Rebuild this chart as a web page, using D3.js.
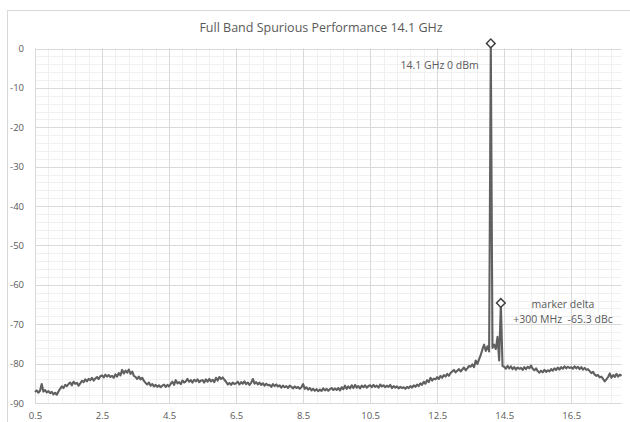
<!DOCTYPE html>
<html>
<head>
<meta charset="utf-8">
<script src="https://cdn.jsdelivr.net/npm/d3@7"></script>
<style>
  body { margin: 0; background: #fff; }
  text { font-family: "Open Sans", "Noto Sans", sans-serif; fill: #595959; }
</style>
</head>
<body>
<svg width="630" height="422"></svg>
<script>

let title = 'Full Band Spurious Performance 14.1 GHz';

// sweep grid (GHz) and measured level (dBm) at each point
let sweepStart = 0.5;
let sweepStep = 0.05;
let levels = [
  -87.2,-86.8,-87.4,-86.9,-85.2,-87.1,-86.7,-87.3,-87.0,-87.5,-87.2,-87.8,-87.4,-87.9,-87.1,-86.4,-85.8,-86.2,-85.4,-85.7,
  -85.2,-84.8,-85.5,-84.6,-85.1,-84.9,-85.6,-85.0,-84.4,-84.7,-84.0,-84.5,-83.9,-84.2,-83.6,-84.3,-83.8,-83.4,-83.9,-83.2,
  -83.0,-83.5,-82.8,-83.3,-82.9,-83.4,-83.1,-83.6,-82.7,-83.3,-82.4,-83.0,-81.6,-82.5,-81.8,-82.3,-81.5,-82.6,-82.0,-83.1,
  -83.4,-83.9,-83.3,-84.0,-83.6,-84.4,-84.9,-85.3,-84.8,-85.6,-85.2,-85.8,-85.4,-85.9,-85.5,-86.0,-85.6,-85.3,-85.9,-85.4,
  -85.8,-85.1,-84.6,-85.4,-84.2,-85.0,-84.7,-85.2,-84.3,-84.8,-84.5,-83.9,-84.6,-84.2,-84.8,-84.1,-84.5,-84.0,-84.7,-84.3,
  -84.2,-84.8,-84.0,-84.6,-83.9,-84.5,-84.1,-84.7,-83.6,-84.3,-83.4,-83.9,-83.5,-84.1,-84.6,-85.3,-84.9,-85.4,-84.8,-85.2,
  -85.0,-84.6,-85.3,-84.7,-85.1,-84.5,-85.2,-84.8,-85.4,-84.9,-83.9,-85.1,-84.7,-85.3,-84.8,-85.4,-85.0,-85.6,-85.1,-85.5,
  -85.4,-85.9,-85.2,-85.7,-85.3,-85.8,-85.5,-86.1,-85.6,-86.0,-85.7,-86.2,-85.6,-85.9,-86.3,-85.8,-86.2,-85.9,-86.4,-86.0,
  -85.2,-86.4,-86.0,-86.6,-86.2,-86.8,-86.4,-86.9,-86.5,-87.0,-86.6,-86.9,-86.3,-86.8,-86.4,-86.9,-86.5,-86.2,-86.7,-86.3,
  -86.7,-86.2,-86.8,-86.0,-86.5,-85.6,-86.4,-85.8,-86.3,-85.5,-86.2,-85.4,-86.1,-85.7,-86.3,-85.6,-86.0,-85.5,-86.1,-85.7,
  -85.5,-86.0,-85.4,-85.9,-85.6,-86.1,-85.3,-85.8,-85.5,-86.0,-85.6,-85.9,-85.4,-86.2,-85.7,-86.1,-85.8,-86.3,-85.9,-86.2,
  -86.0,-86.4,-85.9,-86.2,-85.7,-86.1,-85.5,-85.9,-85.3,-85.7,-85.0,-85.4,-84.6,-85.1,-84.2,-84.7,-83.6,-84.3,-83.8,-84.0,
  -83.4,-83.9,-83.1,-83.6,-82.9,-83.3,-82.6,-83.1,-82.4,-82.0,-81.6,-82.2,-81.8,-81.4,-82.0,-81.5,-81.0,-81.7,-81.2,-80.6,
  -80.8,-80.2,-80.9,-79.2,-80.1,-78.9,-77.8,-76.4,-75.2,-76.8,-75.6,-76.9,  1.3,-76.0,-75.2,-76.3,-73.2,-79.2,-64.6,-80.6,
  -80.8,-81.3,-80.6,-81.2,-80.7,-81.4,-80.9,-81.5,-81.0,-81.3,-81.1,-81.6,-80.9,-81.4,-80.8,-81.2,-80.5,-81.3,-81.7,-81.2,
  -81.9,-82.3,-81.8,-82.2,-81.6,-82.1,-81.7,-82.0,-81.4,-81.8,-81.2,-81.6,-81.0,-81.5,-80.9,-81.3,-80.7,-81.2,-80.8,-81.1,
  -80.9,-81.3,-80.7,-81.2,-80.8,-81.4,-80.9,-81.5,-81.1,-81.6,-81.4,-81.9,-82.4,-82.1,-82.8,-83.1,-82.9,-83.5,-83.3,-83.9,
  -84.5,-84.0,-83.4,-82.5,-83.6,-82.9,-83.4,-82.6,-83.3,-82.8,-83.1
];

let markerFreqs = [14.1, 14.4];
let markerLevels = [1.3, -64.6];

let xTicks = [0.5, 2.5, 4.5, 6.5, 8.5, 10.5, 12.5, 14.5, 16.5];
let yTicks = [0, -10, -20, -30, -40, -50, -60, -70, -80, -90];

let svg = d3.select('svg');
let margin = { top: 48.5, right: 8.5, bottom: 19, left: 35 };
let width = +svg.attr('width');
let height = +svg.attr('height');

let data = levels.map((v, i) => ({ f: sweepStart + i * sweepStep, v: v }));

let x = d3.scaleLinear()
    .domain([0.5, 18])
    .range([margin.left, width - margin.right]);

let y = d3.scaleLinear()
    .domain([-90, 0])
    .range([height - margin.bottom, margin.top]);

// chart area outline
svg.append('rect')
    .attr('x', 7.5).attr('y', 10.5)
    .attr('width', 640).attr('height', 440)
    .attr('fill', 'none')
    .attr('stroke', '#d9d9d9');

svg.append('text')
    .attr('x', 321)
    .attr('y', 32)
    .attr('text-anchor', 'middle')
    .attr('font-size', '12.5px')
    .text(title);

// minor grid
let xMinor = d3.range(0.5, 18, 0.4);
let yMinor = d3.range(-90, 0.1, 2);

svg.append('g').selectAll('line')
    .data(xMinor)
    .enter().append('line')
    .attr('x1', d => Math.round(x(d)) + 0.5).attr('x2', d => Math.round(x(d)) + 0.5)
    .attr('y1', y(0)).attr('y2', y(-90))
    .attr('stroke', '#f0f0f0');

svg.append('g').selectAll('line')
    .data(yMinor)
    .enter().append('line')
    .attr('y1', d => Math.round(y(d)) + 0.5).attr('y2', d => Math.round(y(d)) + 0.5)
    .attr('x1', x(0.5)).attr('x2', x(18))
    .attr('stroke', '#f0f0f0');

// major grid
svg.append('g').selectAll('line')
    .data(xTicks)
    .enter().append('line')
    .attr('x1', d => Math.round(x(d)) + 0.5).attr('x2', d => Math.round(x(d)) + 0.5)
    .attr('y1', y(0)).attr('y2', y(-90))
    .attr('stroke', '#d9d9d9');

svg.append('g').selectAll('line')
    .data(yTicks)
    .enter().append('line')
    .attr('y1', d => Math.round(y(d)) + 0.5).attr('y2', d => Math.round(y(d)) + 0.5)
    .attr('x1', x(0.5)).attr('x2', x(18))
    .attr('stroke', '#d9d9d9');

// axes (labels only)
let yAxis = svg.append('g')
    .attr('transform', 'translate(' + (margin.left - 8) + ',0)')
    .call(d3.axisLeft(y).tickValues(yTicks).tickSize(0).tickFormat(d => d));
yAxis.select('.domain').remove();
yAxis.selectAll('text').attr('font-size', '9.5px').attr('font-family', null).attr('fill', '#595959');

let xAxis = svg.append('g')
    .attr('transform', 'translate(0,' + (height - margin.bottom + 6) + ')')
    .call(d3.axisBottom(x).tickValues(xTicks).tickSize(0).tickFormat(d => d));
xAxis.select('.domain').remove();
xAxis.selectAll('text').attr('font-size', '9.5px').attr('font-family', null).attr('fill', '#595959');

// trace
svg.append('path')
    .datum(data)
    .attr('fill', 'none')
    .attr('stroke', '#606060')
    .attr('stroke-width', 2.1)
    .attr('stroke-linejoin', 'round')
    .attr('d', d3.line().x(d => x(d.f)).y(d => y(d.v)));

// markers
svg.append('g').selectAll('path')
    .data(markerFreqs)
    .enter().append('path')
    .attr('transform', (d, i) => 'translate(' + x(d) + ',' + y(markerLevels[i]) + ')rotate(45)')
    .attr('d', d3.symbol().type(d3.symbolSquare).size(38))
    .attr('fill', '#fff')
    .attr('stroke', '#404040')
    .attr('stroke-width', 1.5);

svg.append('text')
    .attr('x', x(14.1) - 12)
    .attr('y', y(markerLevels[0]) + 26)
    .attr('text-anchor', 'end')
    .attr('font-size', '10.5px')
    .text('14.1 GHz 0 dBm');

svg.append('text')
    .attr('x', 563)
    .attr('y', 307.5)
    .attr('text-anchor', 'middle')
    .attr('font-size', '10.5px')
    .text('marker delta');

svg.append('text')
    .attr('x', 563)
    .attr('y', 323)
    .attr('text-anchor', 'middle')
    .attr('font-size', '10.5px')
    .attr('xml:space', 'preserve')
    .style('white-space', 'pre')
    .text('+300 MHz  -65.3 dBc');

</script>
</body>
</html>
